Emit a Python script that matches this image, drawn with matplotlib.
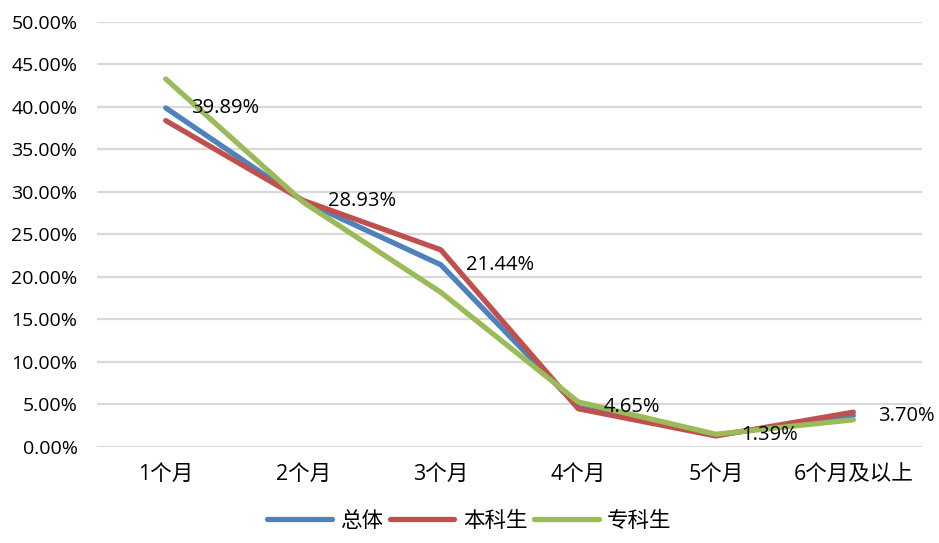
import matplotlib.pyplot as plt
from matplotlib.ticker import PercentFormatter

plt.rcParams['font.family'] = ['Open Sans', 'Noto Sans CJK SC', 'DejaVu Sans']

months = ['1个月', '2个月', '3个月', '4个月', '5个月', '6个月及以上']
total = [39.89, 28.93, 21.44, 4.65, 1.39, 3.70]
undergrad = [38.4, 29.0, 23.2, 4.5, 1.3, 4.1]
college = [43.3, 28.8, 18.2, 5.3, 1.5, 3.2]

fig = plt.figure(figsize=(9.39, 5.43), dpi=100)
ax = fig.add_axes([0.1033, 0.1768, 0.8787, 0.7827])

x = list(range(len(months)))
ax.plot(x, total, color='#4F81BD', lw=3.8, label='总体', solid_capstyle='round')
ax.plot(x, undergrad, color='#C0504D', lw=3.8, label='本科生', solid_capstyle='round')
ax.plot(x, college, color='#9BBB59', lw=3.8, label='专科生', solid_capstyle='round')

for i, v in enumerate(total):
    ax.annotate(f'{v:.2f}%', (i, v), xytext=(18, 0), textcoords='offset points',
                va='center', ha='left', fontsize=14.5, color='#000000')

ax.set_xlim(-0.5, len(months) - 0.5)
ax.set_ylim(0, 50)
ax.set_yticks(range(0, 51, 5))
ax.yaxis.set_major_formatter(PercentFormatter(decimals=2))
ax.set_xticks(x)
ax.set_xticklabels(months, fontsize=15.5)
ax.tick_params(axis='both', length=0, colors='#000000')
ax.tick_params(axis='y', labelsize=14, pad=14)
ax.tick_params(axis='x', pad=12)
ax.grid(axis='y', color='#D9D9D9', lw=1.6)
ax.set_axisbelow(True)
for s in ax.spines.values():
    s.set_visible(False)

fig.legend(loc='lower center', bbox_to_anchor=(0.5, -0.015), ncol=3, frameon=False,
           fontsize=15.5, handlelength=3.0, handletextpad=0.4, columnspacing=0.3)

fig.savefig('out.png', dpi=100)
